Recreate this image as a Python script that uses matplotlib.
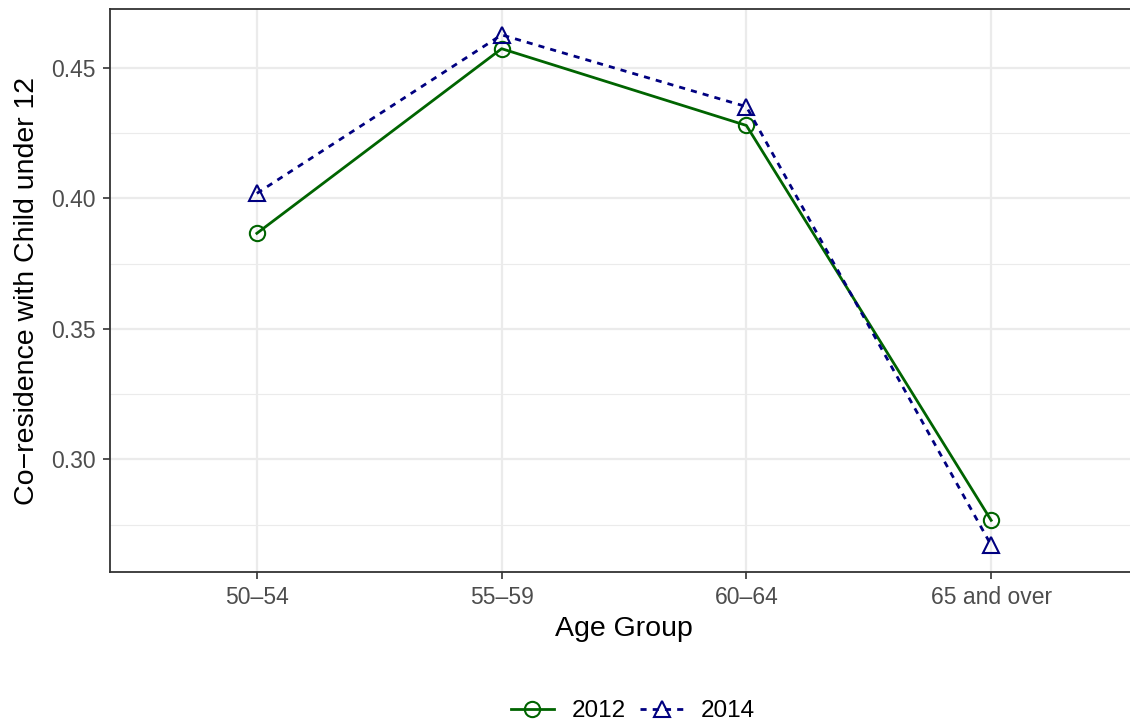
import matplotlib.pyplot as plt
from matplotlib.lines import Line2D

# ----------------------------
# Data
# ----------------------------
age_groups = ["50\u201354", "55\u201359", "60\u201364", "65 and over"]
years = ["2012", "2014"]
coresid_2012 = [0.3866, 0.4573, 0.4279, 0.2767]
coresid_2014 = [0.4019, 0.4626, 0.4351, 0.2672]

y_major = [0.30, 0.35, 0.40, 0.45]
y_minor = [0.275, 0.325, 0.375, 0.425]

plt.rcParams["font.family"] = ["Liberation Sans", "DejaVu Sans"]

fig = plt.figure(figsize=(11.3, 7.27), dpi=100)
# panel is slightly wider than the canvas (right border cut off in the original)
ax = fig.add_axes([110 / 1130, 1 - 572 / 727, 1028 / 1130, 563 / 727])

x = list(range(len(age_groups)))
ax.plot(x, coresid_2012, color="#006400", linewidth=2, marker="o", markersize=11,
        markerfacecolor="none", markeredgewidth=1.5, label=years[0])
ax.plot(x, coresid_2014, color="#000080", linewidth=2, linestyle=(0, (2.2, 2.2)), marker="^",
        markersize=12, markerfacecolor="none", markeredgewidth=1.5, label=years[1])

ax.set_xlim(-0.6, len(age_groups) - 0.4)
ax.set_ylim(0.2569, 0.4725)
ax.set_xticks(x)
ax.set_xticklabels(age_groups)
ax.set_yticks(y_major)
ax.set_yticklabels([f"{v:.2f}" for v in y_major])
ax.set_yticks(y_minor, minor=True)

ax.grid(True, which="major", color="#EBEBEB", linewidth=1.6)
ax.grid(True, which="minor", axis="y", color="#EBEBEB", linewidth=0.8)
ax.set_axisbelow(True)
ax.tick_params(which="minor", length=0)
ax.tick_params(which="major", length=5, width=1.2, color="#333333",
               labelsize=16.5, labelcolor="#4D4D4D", pad=5)

for s in ax.spines.values():
    s.set_color("#333333")
    s.set_linewidth(1.3)

ax.set_xlabel("Age Group", fontsize=20.5, labelpad=5)
ax.set_ylabel("Co\u2212residence with Child under 12", fontsize=20.5, labelpad=8)

handles = [
    Line2D([], [], color="#006400", linewidth=2, marker="o", markersize=11,
           markerfacecolor="none", markeredgewidth=1.5),
    Line2D([], [], color="#000080", linewidth=2, linestyle=(0, (2.2, 2.2)), marker="^",
           markersize=12, markerfacecolor="none", markeredgewidth=1.5),
]
fig.legend(handles, years, loc="center", bbox_to_anchor=(0.56, 1 - 711 / 727),
           ncol=2, frameon=False, fontsize=17.5, handlelength=1.8,
           columnspacing=0.6, handletextpad=0.7)

fig.savefig("out.png", dpi=100)
